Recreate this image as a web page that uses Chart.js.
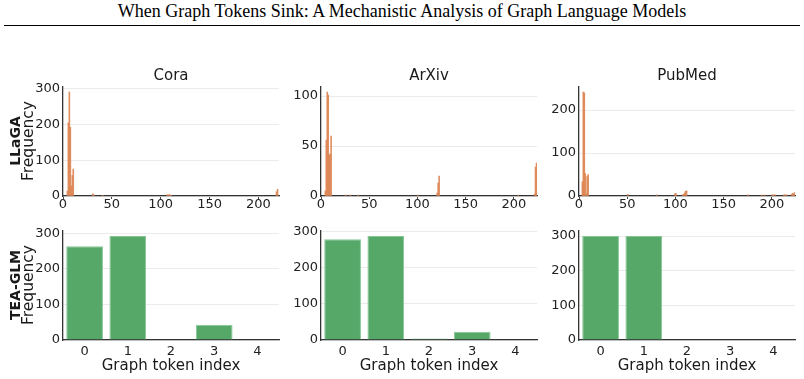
<!DOCTYPE html>
<html><head><meta charset="utf-8">
<script src="https://cdn.jsdelivr.net/npm/chart.js@4.4.0/dist/chart.umd.min.js"></script>
<style>
body{margin:0;width:804px;height:379px;background:#fff;position:relative;overflow:hidden;font-family:"DejaVu Sans",sans-serif;color:#1a1a1a;}
.abs{position:absolute;white-space:nowrap;}
canvas{position:absolute;}
#title{left:0;width:804px;top:2px;text-align:center;font-family:"Liberation Serif","Times New Roman",serif;font-size:18px;line-height:18px;color:#000;}
#rule{left:4px;width:796px;top:25px;height:1px;background:#000;}
.ptitle{font-size:15px;line-height:15px;text-align:center;width:216px;}
.xlab{font-size:15px;line-height:15px;text-align:center;width:216px;}
.ylab{transform:translate(-50%,-50%) rotate(-90deg);text-align:center;font-family:"DejaVu Sans",sans-serif;}
</style></head><body>
<div id="title" class="abs">When Graph Tokens Sink: A Mechanistic Analysis of Graph Language Models</div>
<div id="rule" class="abs"></div>
<script>
// ---------- data ----------
const datasetNames = ['Cora', 'ArXiv', 'PubMed'];
const modelNames = ['LLaGA', 'TEA-GLM'];

// LLaGA: histogram of sink graph-token index (index, frequency)
const coraIdx   = [4, 5, 6, 7, 8, 9, 10, 30, 31, 40, 106, 107, 108, 109, 110, 218, 219];
const coraFreq  = [14, 205, 291, 192, 28, 57, 75, 6, 3, 1, 3, 3, 3, 3, 2, 12, 19];
const arxivIdx  = [4, 5, 6, 7, 8, 9, 10, 25, 30, 38, 100, 120, 121, 122, 204, 221, 222, 223];
const arxivFreq = [5, 56, 104, 101, 41, 42, 60, 1, 1, 1, 1, 3, 13, 20, 1, 2, 29, 33];
const pubmedIdx  = [3, 4, 5, 6, 7, 8, 9, 50, 80, 99, 100, 107, 108, 109, 110, 111, 175, 189, 192, 200, 201, 203, 212, 213, 215, 220, 221, 222, 223];
const pubmedFreq = [33, 242, 240, 52, 5, 45, 50, 4, 3, 5, 6, 3, 4, 7, 11, 12, 3, 2, 2, 3, 3, 3, 3, 3, 3, 4, 6, 5, 8];
const llagaXMax = [221, 224, 224];
const llagaXTicks = [0, 50, 100, 150, 200];
const coraYTicks = [0, 100, 200, 300];
const arxivYTicks = [0, 50, 100];
const pubmedYTicks = [0, 100, 200];

// TEA-GLM: frequency per graph token index
const teaTokens = ['0', '1', '2', '3', '4'];
const teaCora   = [263, 292, 0, 43, 0];
const teaArxiv  = [278, 287, 4, 23, 0];
const teaPubmed = [300, 300, 0, 0, 0];
const teaYTicks = [0, 100, 200, 300];

// ---------- layout ----------
const PAD_L = 50, PAD_T = 10, PAD_R = 12, XAX_H = 24;
const plotLefts = [63, 321, 579];
const plotW = 216, plotH = 110;
const rowTops = [86, 230];
const FONT = {family: 'DejaVu Sans', size: 13};
Chart.defaults.font.family = 'DejaVu Sans';

function mkCanvas(pl, pt) {
  const c = document.createElement('canvas');
  const W = PAD_L + plotW + PAD_R, H = PAD_T + plotH + XAX_H;
  c.width = W; c.height = H;
  c.style.left = (pl - PAD_L) + 'px'; c.style.top = (pt - PAD_T) + 'px';
  c.style.width = W + 'px'; c.style.height = H + 'px';
  document.body.appendChild(c);
  return c;
}
function yScale(ticks, maxVal) {
  return {
    min: 0, max: maxVal,
    afterFit(s) { s.width = PAD_L; },
    afterBuildTicks(s) { s.ticks = ticks.map(v => ({value: v})); },
    grid: {color: '#ebebeb', drawTicks: false, lineWidth: 1},
    border: {display: true, color: '#333', width: 1.3},
    ticks: {padding: 3, color: '#222', font: FONT}
  };
}
const common = {
  responsive: false, animation: false, devicePixelRatio: 1,
  layout: {padding: {left: 0, top: PAD_T, right: PAD_R, bottom: 0}},
  plugins: {legend: {display: false}, tooltip: {enabled: false}}
};

function histPanel(col, idx, freq, xmax, yTicks) {
  const c = mkCanvas(plotLefts[col], rowTops[0]);
  const ymax = Math.max(...freq) * 1.05;
  new Chart(c, {
    type: 'bar',
    data: {datasets: [{
      data: idx.map((x, i) => ({x: x + 0.5, y: freq[i]})),
      backgroundColor: 'rgba(221,132,82,0.92)', borderWidth: 0,
      barPercentage: 1, categoryPercentage: 1
    }]},
    options: Object.assign({}, common, {
      scales: {
        x: {
          type: 'linear', min: 0, max: xmax, offset: false,
          afterFit(s) { s.height = XAX_H; },
          afterBuildTicks(s) { s.ticks = llagaXTicks.map(v => ({value: v})); },
          grid: {display: true, drawOnChartArea: false, drawTicks: true, tickLength: 3, tickColor: '#444', offset: false},
          border: {display: true, color: '#333', width: 1.3},
          ticks: {padding: -2, color: '#222', font: FONT, maxRotation: 0, autoSkip: false}
        },
        y: yScale(yTicks, ymax)
      }
    })
  });
}

function teaPanel(col, vals) {
  const c = mkCanvas(plotLefts[col], rowTops[1]);
  const ymax = Math.max(...vals) * 1.05;
  new Chart(c, {
    type: 'bar',
    data: {labels: teaTokens, datasets: [{
      data: vals,
      backgroundColor: '#55a868',
      borderColor: '#86c594',
      borderWidth: ctx => (ctx.raw > 0 ? 1 : 0),
      barPercentage: 0.85, categoryPercentage: 1
    }]},
    options: Object.assign({}, common, {
      scales: {
        x: {
          afterFit(s) { s.height = XAX_H; },
          grid: {display: true, drawOnChartArea: false, drawTicks: true, tickLength: 3, tickColor: 'rgba(0,0,0,0)'},
          border: {display: true, color: '#333', width: 1.3},
          ticks: {padding: 1, color: '#222', font: FONT, maxRotation: 0}
        },
        y: yScale(teaYTicks, ymax)
      }
    })
  });
}

histPanel(0, coraIdx, coraFreq, llagaXMax[0], coraYTicks);
histPanel(1, arxivIdx, arxivFreq, llagaXMax[1], arxivYTicks);
histPanel(2, pubmedIdx, pubmedFreq, llagaXMax[2], pubmedYTicks);
teaPanel(0, teaCora);
teaPanel(1, teaArxiv);
teaPanel(2, teaPubmed);

// ---------- text ----------
function addDiv(cls, html, left, top) {
  const d = document.createElement('div');
  d.className = 'abs ' + cls;
  d.innerHTML = html;
  d.style.left = left + 'px'; d.style.top = top + 'px';
  document.body.appendChild(d);
  return d;
}
datasetNames.forEach((n, i) => addDiv('ptitle', n, plotLefts[i], 68));
datasetNames.forEach((n, i) => addDiv('xlab', 'Graph token index', plotLefts[i], 358));
modelNames.forEach((m, r) => {
  const cy = rowTops[r] + plotH / 2;
  addDiv('ylab',
    '<div style="font-weight:bold;font-size:14px;line-height:12px;">' + m + '</div>' +
    '<div style="font-size:15.5px;line-height:14px;">Frequency</div>', 22, cy);
});
</script>
</body></html>
